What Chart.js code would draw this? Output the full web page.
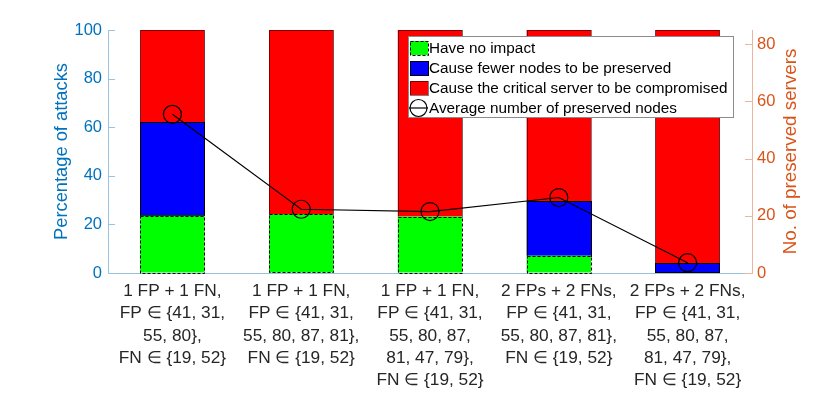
<!DOCTYPE html>
<html>
<head>
<meta charset="utf-8">
<script src="https://cdn.jsdelivr.net/npm/chart.js@4"></script>
<style>
  body { margin: 0; background: #fff; }
  #wrap { width: 830px; height: 396px; }
</style>
</head>
<body>
<div id="wrap"><canvas id="chart" width="830" height="396"></canvas></div>
<script>
// categories (x tick labels, one array of lines per bar)
const categories = [
  ['1 FP + 1 FN,', 'FP \u2208 {41, 31,', '55, 80},', 'FN \u2208 {19, 52}'],
  ['1 FP + 1 FN,', 'FP \u2208 {41, 31,', '55, 80, 87, 81},', 'FN \u2208 {19, 52}'],
  ['1 FP + 1 FN,', 'FP \u2208 {41, 31,', '55, 80, 87,', '81, 47, 79},', 'FN \u2208 {19, 52}'],
  ['2 FPs + 2 FNs,', 'FP \u2208 {41, 31,', '55, 80, 87, 81},', 'FN \u2208 {19, 52}'],
  ['2 FPs + 2 FNs,', 'FP \u2208 {41, 31,', '55, 80, 87,', '81, 47, 79},', 'FN \u2208 {19, 52}']
];

// series values (percent of attacks, stacked)
const noImpact    = [23.6, 24.2, 23.2, 7.1, 0];
const fewerNodes  = [38.4, 0, 0, 22.5, 4.0];
const compromised = [38.0, 75.8, 76.8, 70.4, 96.0];
// average number of preserved nodes (right axis)
const avgPreserved = [55.5, 22.3, 21.5, 26.4, 3.6];

// tick settings
const leftTicks = [0, 20, 40, 60, 80, 100];
const rightMax = 85;

const blueAxis = '#0072BD';
const orangeAxis = '#D95319';
const font = 'Liberation Sans, Arial, Helvetica, sans-serif';

// border styles for each bar series (dash patterns)
const barDash = [[3, 2], [], [1, 1]];

const barBorders = {
  id: 'barBorders',
  afterDatasetDraw(chart, args) {
    const ds = chart.data.datasets[args.index];
    if (ds.type === 'line') return;
    const ctx = chart.ctx;
    ctx.save();
    ctx.strokeStyle = '#000';
    ctx.lineWidth = 1;
    ctx.setLineDash(barDash[args.index] || []);
    args.meta.data.forEach(el => {
      const p = el.getProps(['x', 'y', 'base', 'width'], true);
      if (Math.abs(p.base - p.y) < 0.5) return;
      const top = Math.min(p.y, p.base), h = Math.abs(p.base - p.y);
      ctx.strokeRect(Math.round(p.x - p.width / 2) + 0.5, Math.round(top) + 0.5, Math.round(p.width), Math.round(h));
    });
    ctx.restore();
  }
};

// inward tick marks, rotated axis titles and legend box
const extras = {
  id: 'extras',
  afterDraw(chart) {
    const ctx = chart.ctx;
    const a = chart.chartArea;
    const y = chart.scales.y, y1 = chart.scales.y1;
    ctx.save();
    ctx.lineWidth = 1;
    ctx.strokeStyle = '#9cc3e3';
    y.ticks.forEach(t => {
      const py = Math.round(y.getPixelForValue(t.value)) + 0.5;
      ctx.beginPath(); ctx.moveTo(a.left, py); ctx.lineTo(a.left + 7, py); ctx.stroke();
    });
    ctx.strokeStyle = '#efb49b';
    y1.ticks.forEach(t => {
      const py = Math.round(y1.getPixelForValue(t.value)) + 0.5;
      ctx.beginPath(); ctx.moveTo(a.right - 7, py); ctx.lineTo(a.right, py); ctx.stroke();
    });

    // axis titles
    const midY = (a.top + a.bottom) / 2;
    ctx.textAlign = 'center';
    ctx.textBaseline = 'middle';
    ctx.font = '18.3px ' + font;
    ctx.fillStyle = blueAxis;
    ctx.translate(62, midY);
    ctx.rotate(-Math.PI / 2);
    ctx.fillText('Percentage of attacks', 0, 0);
    ctx.setTransform(1, 0, 0, 1, 0, 0);
    ctx.font = '18.8px ' + font;
    ctx.fillStyle = orangeAxis;
    ctx.translate(791, midY);
    ctx.rotate(-Math.PI / 2);
    ctx.fillText('No. of preserved servers', 0, 0);
    ctx.setTransform(1, 0, 0, 1, 0, 0);

    // legend
    const lx = 408, ly = 36, lw = 325, lh = 81;
    ctx.fillStyle = '#fff';
    ctx.fillRect(lx, ly, lw, lh);
    ctx.strokeStyle = '#8c8c8c';
    ctx.strokeRect(lx + 0.5, ly + 0.5, lw, lh);
    ctx.font = '15.3px ' + font;
    ctx.textAlign = 'left';
    chart.data.datasets.forEach((ds, i) => {
      const cy = ly + 12 + i * 20;
      ctx.setLineDash([]);
      if (ds.type === 'line') {
        ctx.strokeStyle = '#000';
        ctx.lineWidth = 1.2;
        ctx.beginPath(); ctx.moveTo(lx + 1, cy); ctx.lineTo(lx + 20, cy); ctx.stroke();
        ctx.beginPath(); ctx.arc(lx + 10.5, cy, 8.5, 0, Math.PI * 2); ctx.stroke();
      } else {
        ctx.fillStyle = ds.backgroundColor;
        ctx.fillRect(lx + 2, cy - 7, 18, 14);
        ctx.strokeStyle = '#000';
        ctx.lineWidth = 1;
        ctx.setLineDash(barDash[i]);
        ctx.strokeRect(lx + 2.5, cy - 6.5, 18, 14);
        ctx.setLineDash([]);
      }
      ctx.fillStyle = '#000';
      ctx.fillText(ds.label, lx + 21, cy + 1);
    });
    ctx.restore();
  }
};

new Chart(document.getElementById('chart'), {
  type: 'bar',
  data: {
    labels: categories,
    datasets: [
      { label: 'Have no impact', data: noImpact, backgroundColor: '#00ff00', borderWidth: 0, order: 1, barPercentage: 0.5, categoryPercentage: 1 },
      { label: 'Cause fewer nodes to be preserved', data: fewerNodes, backgroundColor: '#0000ff', borderWidth: 0, order: 1, barPercentage: 0.5, categoryPercentage: 1 },
      { label: 'Cause the critical server to be compromised', data: compromised, backgroundColor: '#ff0000', borderWidth: 0, order: 1, barPercentage: 0.5, categoryPercentage: 1 },
      {
        type: 'line', label: 'Average number of preserved nodes', data: avgPreserved, yAxisID: 'y1',
        borderColor: '#000', borderWidth: 1.2, backgroundColor: 'transparent', fill: false,
        pointRadius: 9, pointBorderWidth: 1.2, pointBorderColor: '#000', pointBackgroundColor: 'rgba(0,0,0,0)',
        tension: 0, order: 0
      }
    ]
  },
  options: {
    responsive: false,
    animation: false,
    layout: { padding: { top: 30, bottom: 0, left: 0, right: 0 } },
    plugins: { legend: { display: false }, tooltip: { enabled: false } },
    scales: {
      x: {
        stacked: true,
        offset: true,
        grid: { display: false, drawTicks: false },
        border: { display: true, color: '#9cbfd9', width: 1 },
        ticks: { color: '#262626', font: { family: font, size: 17.3, lineHeight: '22.1px' }, maxRotation: 0, autoSkip: false, padding: 7.5 },
        afterFit: s => { s.height = 123; }
      },
      y: {
        stacked: true,
        position: 'left',
        min: 0, max: 100,
        afterBuildTicks: s => { s.ticks = leftTicks.map(v => ({ value: v })); },
        grid: { drawOnChartArea: false, drawTicks: false },
        border: { display: true, color: '#9cc3e3', width: 1 },
        ticks: { color: blueAxis, font: { family: font, size: 16.5 }, padding: 6 },
        afterFit: s => { s.width = 108; }
      },
      y1: {
        position: 'right',
        min: 0, max: rightMax,
        grid: { drawOnChartArea: false, drawTicks: false },
        border: { display: true, color: '#efb49b', width: 1 },
        ticks: { color: orangeAxis, font: { family: font, size: 16.5 }, stepSize: 20, includeBounds: false, padding: 5 },
        afterFit: s => { s.width = 78; }
      }
    }
  },
  plugins: [barBorders, extras]
});
</script>
</body>
</html>
